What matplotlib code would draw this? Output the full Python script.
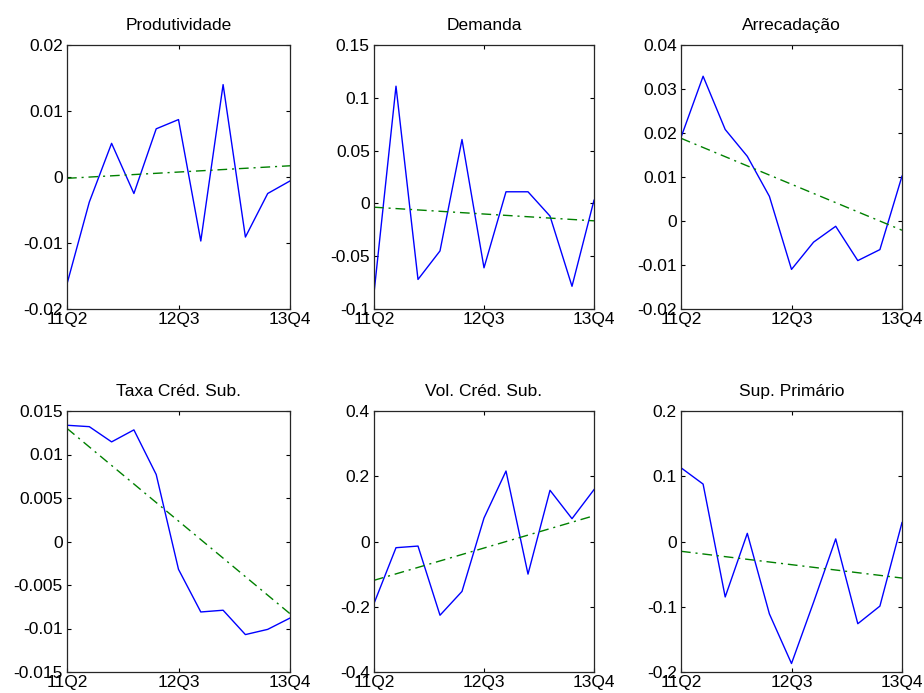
import numpy as np
import matplotlib
matplotlib.use("Agg")
import matplotlib.pyplot as plt

plt.rcParams["font.family"] = ["Liberation Sans", "DejaVu Sans"]
plt.rcParams["axes.unicode_minus"] = False

# ========= dados =========
quarters = ["11Q2", "11Q3", "11Q4", "12Q1", "12Q2", "12Q3",
            "12Q4", "13Q1", "13Q2", "13Q3", "13Q4"]
tick_labels = ["11Q2", "12Q3", "13Q4"]
tick_idx = [0, 5, 10]

titles = ["Produtividade", "Demanda", "Arrecadação",
          "Taxa Créd. Sub.", "Vol. Créd. Sub.", "Sup. Primário"]

produtividade = [-0.0162, -0.0038, 0.0051, -0.0025, 0.0073, 0.0087,
                 -0.0097, 0.0140, -0.0091, -0.0025, -0.0006]
demanda = [-0.085, 0.111, -0.072, -0.045, 0.0605, -0.061,
           0.011, 0.011, -0.012, -0.0785, 0.003]
arrecadacao = [0.019, 0.0329, 0.0208, 0.0147, 0.0056, -0.011,
               -0.0048, -0.0012, -0.009, -0.0065, 0.0102]
taxa_cred = [0.01336, 0.0132, 0.01145, 0.01283, 0.0077, -0.0032,
             -0.0081, -0.0079, -0.0107, -0.0101, -0.0088]
vol_cred = [-0.19, -0.019, -0.014, -0.226, -0.153, 0.072,
            0.216, -0.10, 0.157, 0.07, 0.159]
sup_primario = [0.113, 0.088, -0.085, 0.0125, -0.111, -0.187,
                -0.093, 0.004, -0.126, -0.099, 0.029]

# tendência (início, fim)
trend_start = [-0.0002, -0.0036, 0.0188, 0.0130, -0.119, -0.015]
trend_end = [0.0017, -0.0165, -0.0021, -0.0083, 0.079, -0.056]

ylims = [(-0.02, 0.02), (-0.1, 0.15), (-0.02, 0.04),
         (-0.015, 0.015), (-0.4, 0.4), (-0.2, 0.2)]
ysteps = [0.01, 0.05, 0.01, 0.005, 0.2, 0.1]

series = [produtividade, demanda, arrecadacao, taxa_cred, vol_cred, sup_primario]

# ========= figura =========
fig = plt.figure(figsize=(9.24, 6.93), dpi=100)
W, H = 924, 693
lefts = [67, 374, 681]
widths = [223, 220, 221]
tops = [45, 411]
bottoms = [309, 672]

x = np.arange(len(quarters))
for i in range(6):
    r, c = divmod(i, 3)
    ax = fig.add_axes([lefts[c] / W, 1 - bottoms[r] / H,
                       widths[c] / W, (bottoms[r] - tops[r]) / H])
    ax.plot(x, series[i], color=(0, 0, 1), lw=1.0)
    ax.plot([x[0], x[-1]], [trend_start[i], trend_end[i]],
            color=(0, 0.5, 0), lw=1.0, linestyle=(0, (7, 3.5, 1.5, 3.5)))
    lo, hi = ylims[i]
    ax.set_ylim(lo, hi)
    ax.set_xlim(0, 10)
    yt = np.arange(lo, hi + ysteps[i] / 2, ysteps[i])
    ax.set_yticks(yt)
    ax.set_yticklabels([("%g" % round(v, 6)) if abs(v) > 1e-12 else "0" for v in yt])
    ax.set_xticks(tick_idx)
    ax.set_xticklabels(tick_labels)
    ax.tick_params(direction="in", length=3, width=0.8, labelsize=12.5,
                   top=True, right=True, colors="black", pad=3)
    ax.tick_params(axis="x", pad=2)
    for s in ax.spines.values():
        s.set_color("#262626")
        s.set_linewidth(0.9)
    ax.set_title(titles[i], fontsize=12.5, pad=11)

plt.savefig("out.png", dpi=100)
